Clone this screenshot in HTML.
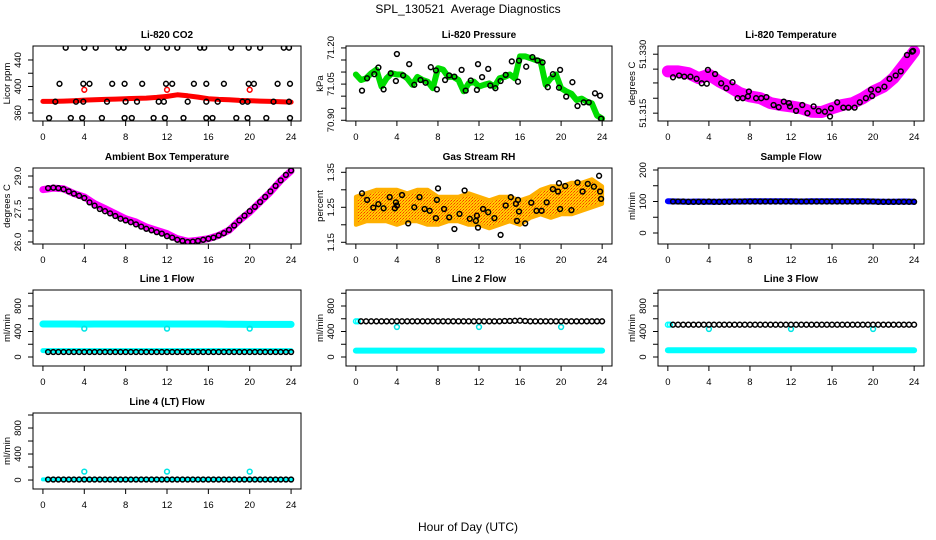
<!DOCTYPE html>
<html><head><meta charset="utf-8"><title>SPL_130521 Average Diagnostics</title>
<style>
html,body{margin:0;padding:0;background:#fff;}
svg{display:block;font-family:"Liberation Sans",Arial,sans-serif;}
</style></head>
<body>
<svg id="chart" width="936" height="540" viewBox="0 0 936 540" xmlns="http://www.w3.org/2000/svg">
<defs>
<pattern id="rhpat" width="3" height="3" patternUnits="userSpaceOnUse">
<rect width="3" height="3" fill="#ffd000"/>
<rect x="0" y="0" width="1" height="1" fill="#ff5a00"/>
<rect x="2" y="1" width="1" height="1" fill="#ff8800"/>
<rect x="1" y="2" width="1" height="1" fill="#ff3300"/>
</pattern>
</defs>
<text x="468" y="13" text-anchor="middle" font-size="12" style="white-space:pre">SPL_130521  Average Diagnostics</text>
<text x="468" y="531" text-anchor="middle" font-size="12">Hour of Day (UTC)</text>
</svg>
<script>
// ---------- data ----------
const H25 = [0,1,2,3,4,5,6,7,8,9,10,11,12,13,14,15,16,17,18,19,20,21,22,23,24];
const H49 = [0,0.5,1,1.5,2,2.5,3,3.5,4,4.5,5,5.5,6,6.5,7,7.5,8,8.5,9,9.5,10,10.5,11,11.5,12,12.5,13,13.5,14,14.5,15,15.5,16,16.5,17,17.5,18,18.5,19,19.5,20,20.5,21,21.5,22,22.5,23,23.5,24];
const H48 = [0.5,1,1.5,2,2.5,3,3.5,4,4.5,5,5.5,6,6.5,7,7.5,8,8.5,9,9.5,10,10.5,11,11.5,12,12.5,13,13.5,14,14.5,15,15.5,16,16.5,17,17.5,18,18.5,19,19.5,20,20.5,21,21.5,22,22.5,23,23.5,24];
const OUT_T = [4,12,20];

// CO2
const co2Red = [377.5,377.5,378,378.5,379.5,380,380.5,381,381.5,382,382.5,383.5,385,387.5,386,384,381.5,380.5,380,379,378.5,378,377.5,377,376.5];
const co2RedOut = [395,395,395];
const co2BlkT = [2.2,4,5.1,7.3,7.8,10.1,12,13,15.2,15.6,18.2,19.9,21,23.3,23.8,
  1.6,3.9,4.5,6.7,7.9,9.6,11.9,12.5,14.6,15.8,17.5,19.9,20.4,22.7,23.9,
  1.2,3.2,3.9,6.2,8,9.1,11.2,11.7,14,15.8,16.9,19.3,19.8,22.3,23.8,
  0.6,2.7,3.8,5.7,7.9,8.6,10.7,11.8,13.6,15.8,16.4,18.7,19.8,21.6,23.9];
const co2BlkV = [458.5,458.5,458.5,458.5,458.5,458.5,458.5,458.5,458.5,458.5,458.5,458.5,458.5,458.5,458.5,
  404,404,404,404,404,404,404,404,404,404,404,404,404,404,404,
  377,377,377,377,377,377,377,377,377,377,377,377,377,377,377,
  352.5,352.5,352.5,352.5,352.5,352.5,352.5,352.5,352.5,352.5,352.5,352.5,352.5,352.5,352.5];

// Pressure
const presGreen = [71.09,71.067,71.074,71.095,71.11,71.04,71.074,71.095,71.09,71.09,71.074,71.047,71.08,71.067,71.06,71.033,71.116,71.11,71.08,71.08,71.067,71.02,71.053,71.06,71.04,71.047,71.053,71.04,71.074,71.08,71.09,71.074,71.165,71.165,71.158,71.15,71.144,71.047,71.074,71.09,71.033,71.02,71.01,70.984,70.99,70.977,70.97,70.92,70.907];
const presBlkT = [0.6,1.1,1.8,2.2,2.7,3.4,3.9,4,4.6,5.2,5.7,6.3,6.8,7.3,7.8,7.9,8.7,9.1,9.6,10.3,10.7,11.2,11.8,11.9,12.3,12.9,13.1,13.6,14.1,14.6,15.2,15.8,15.9,16.6,17.2,17.7,18.2,18.7,19.2,19.8,19.9,20.5,21.1,21.6,22.2,22.7,23.3,23.8,23.9];
const presBlkV = [71.023,71.074,71.091,71.119,71.028,71.095,71.063,71.175,71.086,71.133,71.047,71.067,71.056,71.120,71.107,71.028,71.067,71.086,71.081,71.109,71.023,71.065,71.026,71.133,71.079,71.113,71.044,71.033,71.063,71.088,71.144,71.060,71.147,71.122,71.162,71.148,71.140,71.037,71.091,71.035,71.109,70.998,71.058,70.959,70.974,70.974,71.012,71.002,70.907];

// Li-820 temperature
const tempMag = [51.3262,51.3262,51.3257,51.3244,51.3253,51.3235,51.3221,51.3204,51.3195,51.3190,51.3177,51.3172,51.3168,51.3163,51.3154,51.3153,51.3163,51.3172,51.3177,51.3190,51.3208,51.3221,51.3244,51.3279,51.3315];
const tempBlkT = [0.5,1.1,1.6,2.2,2.8,3.3,3.8,3.9,4.6,5.2,5.7,6.3,6.8,7.3,7.8,7.9,8.6,9.1,9.6,10.3,10.8,11.3,11.8,11.9,12.5,13.1,13.6,14.2,14.7,15.3,15.8,15.9,16.5,17.1,17.6,18.2,18.7,19.3,19.8,19.9,20.5,21.1,21.6,22.2,22.7,23.3,23.8,23.9];
const tempBlkV = [51.3246,51.3251,51.3248,51.3248,51.3242,51.3230,51.3229,51.3266,51.3255,51.3230,51.3217,51.3233,51.3190,51.3190,51.3195,51.3208,51.3190,51.3190,51.3193,51.3172,51.3166,51.3181,51.3177,51.3168,51.3156,51.3172,51.3150,51.3168,51.3156,51.3154,51.3141,51.3163,51.3179,51.3165,51.3165,51.3165,51.3179,51.3190,51.3213,51.3196,51.3213,51.3221,51.3242,51.3251,51.3262,51.3306,51.3315,51.3317];

// Ambient box temperature
const ambMag = [28.38,28.45,28.42,28.2,28.05,27.74,27.52,27.29,27.06,26.91,26.68,26.53,26.38,26.15,26.03,26.08,26.15,26.3,26.53,26.98,27.36,27.82,28.27,28.8,29.23];
const ambBlk = [28.45,28.47,28.45,28.4,28.3,28.2,28.1,28.0,27.8,27.65,27.5,27.4,27.3,27.18,27.06,26.98,26.9,26.8,26.7,26.6,26.53,26.45,26.38,26.27,26.2,26.1,26.05,26.0,26.02,26.05,26.1,26.15,26.2,26.3,26.4,26.55,26.75,26.98,27.2,27.4,27.6,27.82,28.05,28.3,28.55,28.8,29.05,29.25];

// Gas stream RH
const rhLow = [1.20,1.21,1.21,1.21,1.20,1.21,1.21,1.20,1.20,1.21,1.21,1.20,1.20,1.19,1.20,1.21,1.20,1.22,1.23,1.22,1.23,1.23,1.24,1.25,1.26];
const rhHigh = [1.28,1.29,1.30,1.30,1.30,1.29,1.30,1.30,1.28,1.28,1.28,1.29,1.28,1.27,1.28,1.28,1.27,1.28,1.30,1.31,1.31,1.32,1.32,1.33,1.31];
const rhBlkT = [0.6,1.1,1.7,2.2,2.7,3.3,3.8,3.9,4.0,4.5,5.1,5.7,6.2,6.7,7.2,7.8,7.9,8.0,8.6,9.1,9.6,10.1,10.6,11.1,11.7,11.8,11.9,12.4,12.9,13.5,14.1,14.6,15.1,15.6,15.7,15.8,15.9,16.5,17.1,17.6,18.1,18.6,19.2,19.7,19.8,19.9,20.4,21.0,21.6,22.1,22.6,23.2,23.7,23.8,23.9];
const rhBlkV = [1.29,1.271,1.249,1.259,1.247,1.279,1.247,1.264,1.255,1.285,1.204,1.25,1.279,1.245,1.24,1.219,1.271,1.304,1.245,1.221,1.188,1.231,1.298,1.217,1.211,1.226,1.192,1.245,1.236,1.219,1.171,1.255,1.279,1.26,1.211,1.271,1.238,1.204,1.263,1.24,1.24,1.264,1.302,1.295,1.319,1.245,1.311,1.242,1.321,1.295,1.317,1.309,1.34,1.295,1.274];

// Sample flow
const sfBlue = [101,100,99,100,99,99,100,100,101,101,101,101,101,100,101,101,101,101,101,101,100,99,99,100,99];
const sfBlk = [100,100,100,99,99,99,99,100,99,99,99,99,100,100,100,100,100,100,100,100,100,100,100,100,100,100,100,100,100,100,100,100,100,100,100,100,100,100,100,100,99,99,99,99,99,99,99,99];

// Line flows
const l1Cyan = [517,517,517,517,516,517,517,517,517,517,517,517,517,517,517,517,517,517,515,514,512,512,512,512,512];
const l1CyanLow = [100,100,100,100,100,100,100,100,100,100,100,100,100,100,100,100,100,100,100,100,100,100,100,100,100];
const l1Blk = [78,78,78,78,78,78,78,78,78,78,78,78,78,78,78,78,78,78,78,78,78,78,78,78,78,78,78,78,78,78,78,78,78,78,78,78,78,78,78,78,78,78,78,78,78,78,78,78];
const l1Out = [445,445,445];

const l2CyanLow = [100,100,100,100,100,100,100,100,100,100,100,100,100,100,100,100,100,100,100,100,100,100,100,100,100];
const l2Blk = [560,560,560,560,560,560,560,560,560,560,560,560,560,560,560,560,560,560,560,560,560,560,560,560,560,560,560,560,565,565,568,570,565,560,560,560,560,560,560,560,560,560,560,560,560,560,560,560];
const l2Out = [470,470,470];

const l3CyanLow = [105,105,105,105,105,105,105,105,105,105,105,105,105,105,105,105,105,105,105,105,105,105,105,105,105];
const l3Blk = [507,507,507,507,507,507,507,507,507,507,507,507,507,507,507,507,507,507,507,507,507,507,507,507,507,507,507,507,507,507,507,507,507,507,507,507,507,507,507,507,507,507,507,507,507,507,507,507];
const l3Out = [440,440,440];

const l4Cyan = [10,10,10,10,10,10,10,10,10,10,10,10,10,10,10,10,10,10,10,10,10,10,10,10,10];
const l4Blk = [8,8,8,8,8,8,8,8,8,8,8,8,8,8,8,8,8,8,8,8,8,8,8,8,8,8,8,8,8,8,8,8,8,8,8,8,8,8,8,8,8,8,8,8,8,8,8,8];
const l4Out = [130,130,130];

const xTicks = [0,4,8,12,16,20,24];

// ---------- drawing ----------
const svg = document.getElementById('chart');
const NS = 'http://www.w3.org/2000/svg';
function el(tag, parent){ const e = document.createElementNS(NS, tag); parent.appendChild(e); return e; }

function panel(cfg){
  const g = el('g', svg);
  
  
  const L = cfg.L, T = cfg.T, W = cfg.W, Hh = cfg.H;
  const xmin = -0.96, xmax = 24.96;
  const sx = v => L + (v - xmin) / (xmax - xmin) * W;
  const sy = v => T + Hh - (v - cfg.ymin) / (cfg.ymax - cfg.ymin) * Hh;
  const clipId = 'clip-' + cfg.name;
  const cp = el('clipPath', g); cp.setAttribute('id', clipId);
  const cr = el('rect', cp); cr.setAttribute('x', L); cr.setAttribute('y', T); cr.setAttribute('width', W); cr.setAttribute('height', Hh);
  const plot = el('g', g);
  plot.setAttribute('clip-path', 'url(#' + clipId + ')');
  
  

  cfg.series.forEach(s => {
    const n = Math.min(s.t.length, s.v.length);
    if (s.kind === 'band') {
      let d = '';
      for (let i = 0; i < n; i++) d += (i ? 'L' : 'M') + sx(s.t[i]).toFixed(1) + ' ' + sy(s.v[i]).toFixed(1);
      const p = el('path', plot);
      
      
      p.setAttribute('d', d);
      p.setAttribute('fill', 'none');
      p.setAttribute('stroke', s.color);
      p.setAttribute('stroke-width', s.width);
      p.setAttribute('stroke-linecap', 'round');
      p.setAttribute('stroke-linejoin', 'round');
    } else if (s.kind === 'area') {
      let d = '';
      for (let i = 0; i < n; i++) d += (i ? 'L' : 'M') + sx(s.t[i]).toFixed(1) + ' ' + sy(s.v[i]).toFixed(1);
      for (let i = n - 1; i >= 0; i--) d += 'L' + sx(s.t[i]).toFixed(1) + ' ' + sy(s.v2[i]).toFixed(1);
      d += 'Z';
      const p = el('path', plot);
      
      
      p.setAttribute('d', d);
      p.setAttribute('fill', 'url(#rhpat)');
      p.setAttribute('stroke', '#ffb000');
      p.setAttribute('stroke-width', '4');
      p.setAttribute('stroke-linejoin', 'round');
    } else {
      const sg = el('g', plot);
      
      
      for (let i = 0; i < n; i++) {
        const c = el('circle', sg);
        
        
        c.setAttribute('cx', sx(s.t[i]).toFixed(1));
        c.setAttribute('cy', sy(s.v[i]).toFixed(1));
        c.setAttribute('r', s.r || 2.4);
        c.setAttribute('fill', 'none');
        c.setAttribute('stroke', s.color);
        c.setAttribute('stroke-width', s.sw || 1.5);
      }
    }
  });

  const box = el('rect', g);
  
  
  box.setAttribute('x', L); box.setAttribute('y', T); box.setAttribute('width', W); box.setAttribute('height', Hh);
  box.setAttribute('fill', 'none'); box.setAttribute('stroke', '#000'); box.setAttribute('stroke-width', '1');

  const xa = el('g', g);
  
  
  xTicks.forEach(v => {
    const x = sx(v);
    const ln = el('line', xa);
    ln.setAttribute('x1', x); ln.setAttribute('x2', x); ln.setAttribute('y1', T + Hh); ln.setAttribute('y2', T + Hh + 5);
    ln.setAttribute('stroke', '#000');
    const tx = el('text', xa);
    
    
    tx.setAttribute('x', x); tx.setAttribute('y', T + Hh + 19);
    tx.setAttribute('text-anchor', 'middle'); tx.setAttribute('font-size', '9.5');
    tx.textContent = v;
  });

  const ya = el('g', g);
  
  
  cfg.yTicks.forEach((v, i) => {
    const y = sy(v);
    const ln = el('line', ya);
    ln.setAttribute('x1', L - 5); ln.setAttribute('x2', L); ln.setAttribute('y1', y); ln.setAttribute('y2', y);
    ln.setAttribute('stroke', '#000');
    const lab = cfg.yLabels[i];
    if (lab) {
      const tx = el('text', ya);
      
      
      tx.setAttribute('transform', 'translate(' + (L - 12) + ',' + y.toFixed(1) + ') rotate(-90)');
      tx.setAttribute('text-anchor', 'middle'); tx.setAttribute('font-size', '9.5');
      tx.textContent = lab;
    }
  });
  const yt = el('text', g);
  
  
  yt.setAttribute('transform', 'translate(' + (L - 23) + ',' + (T + Hh / 2) + ') rotate(-90)');
  yt.setAttribute('text-anchor', 'middle'); yt.setAttribute('font-size', '9.5');
  yt.textContent = cfg.ylab;

  const tt = el('text', g);
  
  
  tt.setAttribute('x', L + W / 2); tt.setAttribute('y', T - 8);
  tt.setAttribute('text-anchor', 'middle'); tt.setAttribute('font-size', '10'); tt.setAttribute('font-weight', 'bold');
  tt.textContent = cfg.title;
}

const C1 = 33, C2 = 346, C3 = 658, CW = 268, CW2 = 266;
const R1 = 46, R2 = 168, R3 = 290, R4 = 413, RH = 75;

panel({name:'co2-panel', title:'Li-820 CO2', ylab:'Licor ppm', L:C1, T:R1, W:CW, H:RH, ymin:347.9, ymax:461.1,
  yTicks:[360,380,400,420,440], yLabels:['360','','400','','440'],
  series:[
    {name:'co2-red-band', kind:'band', t:H25, v:co2Red, color:'#ff0000', width:5},
    {name:'co2-red-outliers', kind:'pts', t:OUT_T, v:co2RedOut, color:'#ff0000'},
    {name:'co2-black-points', kind:'pts', t:co2BlkT, v:co2BlkV, color:'#000'}
  ]});

panel({name:'pressure-panel', title:'Li-820 Pressure', ylab:'kPa', L:C2, T:R1, W:CW2, H:RH, ymin:70.897, ymax:71.208,
  yTicks:[70.90,70.95,71.00,71.05,71.10,71.15,71.20], yLabels:['70.90','','','71.05','','','71.20'],
  series:[
    {name:'pressure-green-band', kind:'band', t:H49, v:presGreen, color:'#00dd00', width:6},
    {name:'pressure-black-points', kind:'pts', t:presBlkT, v:presBlkV, color:'#000'}
  ]});

panel({name:'li820-temp-panel', title:'Li-820 Temperature', ylab:'degrees C', L:C3, T:R1, W:CW2, H:RH, ymin:51.3129, ymax:51.3330,
  yTicks:[51.315,51.319,51.3231,51.3268,51.3308], yLabels:['51.315','','','','51.330'],
  series:[
    {name:'li820-temp-magenta-band', kind:'band', t:H25, v:tempMag, color:'#ff00ff', width:12},
    {name:'li820-temp-black-points', kind:'pts', t:tempBlkT, v:tempBlkV, color:'#000'}
  ]});

panel({name:'ambient-temp-panel', title:'Ambient Box Temperature', ylab:'degrees C', L:C1, T:R2, W:CW, H:RH+1, ymin:25.909, ymax:29.364,
  yTicks:[26.0,26.5,27.0,27.5,28.0,28.5,29.0], yLabels:['26.0','','','27.5','','','29.0'],
  series:[
    {name:'ambient-temp-magenta-band', kind:'band', t:H25, v:ambMag, color:'#ff00ff', width:7},
    {name:'ambient-temp-black-points', kind:'pts', t:H48, v:ambBlk, color:'#000'}
  ]});

panel({name:'rh-panel', title:'Gas Stream RH', ylab:'percent', L:C2, T:R2, W:CW2, H:RH+1, ymin:1.1451, ymax:1.3623,
  yTicks:[1.15,1.20,1.25,1.30,1.35], yLabels:['1.15','','1.25','','1.35'],
  series:[
    {name:'rh-yellow-cloud', kind:'area', t:H25, v:rhLow, v2:rhHigh},
    {name:'rh-black-points', kind:'pts', t:rhBlkT, v:rhBlkV, color:'#000'}
  ]});

panel({name:'sample-flow-panel', title:'Sample Flow', ylab:'ml/min', L:C3, T:R2, W:CW2, H:RH+1, ymin:-34.9, ymax:206.3,
  yTicks:[0,50,100,150,200], yLabels:['0','','100','','200'],
  series:[
    {name:'sample-flow-blue-band', kind:'band', t:H25, v:sfBlue, color:'#0000ff', width:6},
    {name:'sample-flow-black-points', kind:'pts', t:H48, v:sfBlk, color:'#000'}
  ]});

const flowTicks = [0,200,400,600,800,1000], flowLabels = ['0','','400','','800',''];

panel({name:'line1-flow-panel', title:'Line 1 Flow', ylab:'ml/min', L:C1, T:R3, W:CW, H:RH+1, ymin:-141, ymax:1051,
  yTicks:flowTicks, yLabels:flowLabels,
  series:[
    {name:'line1-cyan-high-band', kind:'band', t:H25, v:l1Cyan, color:'#00ffff', width:7},
    {name:'line1-cyan-low-band', kind:'band', t:H25, v:l1CyanLow, color:'#00ffff', width:5},
    {name:'line1-cyan-outliers', kind:'pts', t:OUT_T, v:l1Out, color:'#00e5e5'},
    {name:'line1-black-points', kind:'pts', t:H48, v:l1Blk, color:'#000'}
  ]});

panel({name:'line2-flow-panel', title:'Line 2 Flow', ylab:'ml/min', L:C2, T:R3, W:CW2, H:RH+1, ymin:-141, ymax:1051,
  yTicks:flowTicks, yLabels:flowLabels,
  series:[
    {name:'line2-cyan-low-band', kind:'band', t:H25, v:l2CyanLow, color:'#00ffff', width:6},
    {name:'line2-cyan-start', kind:'pts', t:[0,0.2], v:[560,560], color:'#00ffff'},
    {name:'line2-cyan-outliers', kind:'pts', t:OUT_T, v:l2Out, color:'#00e5e5'},
    {name:'line2-black-points', kind:'pts', t:H48, v:l2Blk, color:'#000'}
  ]});

panel({name:'line3-flow-panel', title:'Line 3 Flow', ylab:'ml/min', L:C3, T:R3, W:CW2, H:RH+1, ymin:-141, ymax:1051,
  yTicks:flowTicks, yLabels:flowLabels,
  series:[
    {name:'line3-cyan-low-band', kind:'band', t:H25, v:l3CyanLow, color:'#00ffff', width:6},
    {name:'line3-cyan-start', kind:'pts', t:[0,0.2], v:[507,507], color:'#00ffff'},
    {name:'line3-cyan-outliers', kind:'pts', t:OUT_T, v:l3Out, color:'#00e5e5'},
    {name:'line3-black-points', kind:'pts', t:H48, v:l3Blk, color:'#000'}
  ]});

panel({name:'line4-flow-panel', title:'Line 4 (LT) Flow', ylab:'ml/min', L:C1, T:R4, W:CW, H:RH+1, ymin:-138, ymax:1031,
  yTicks:flowTicks, yLabels:flowLabels,
  series:[
    {name:'line4-cyan-band', kind:'band', t:H25, v:l4Cyan, color:'#00ffff', width:4},
    {name:'line4-cyan-outliers', kind:'pts', t:OUT_T, v:l4Out, color:'#00e5e5'},
    {name:'line4-black-points', kind:'pts', t:H48, v:l4Blk, color:'#000'}
  ]});
</script>
</body></html>
